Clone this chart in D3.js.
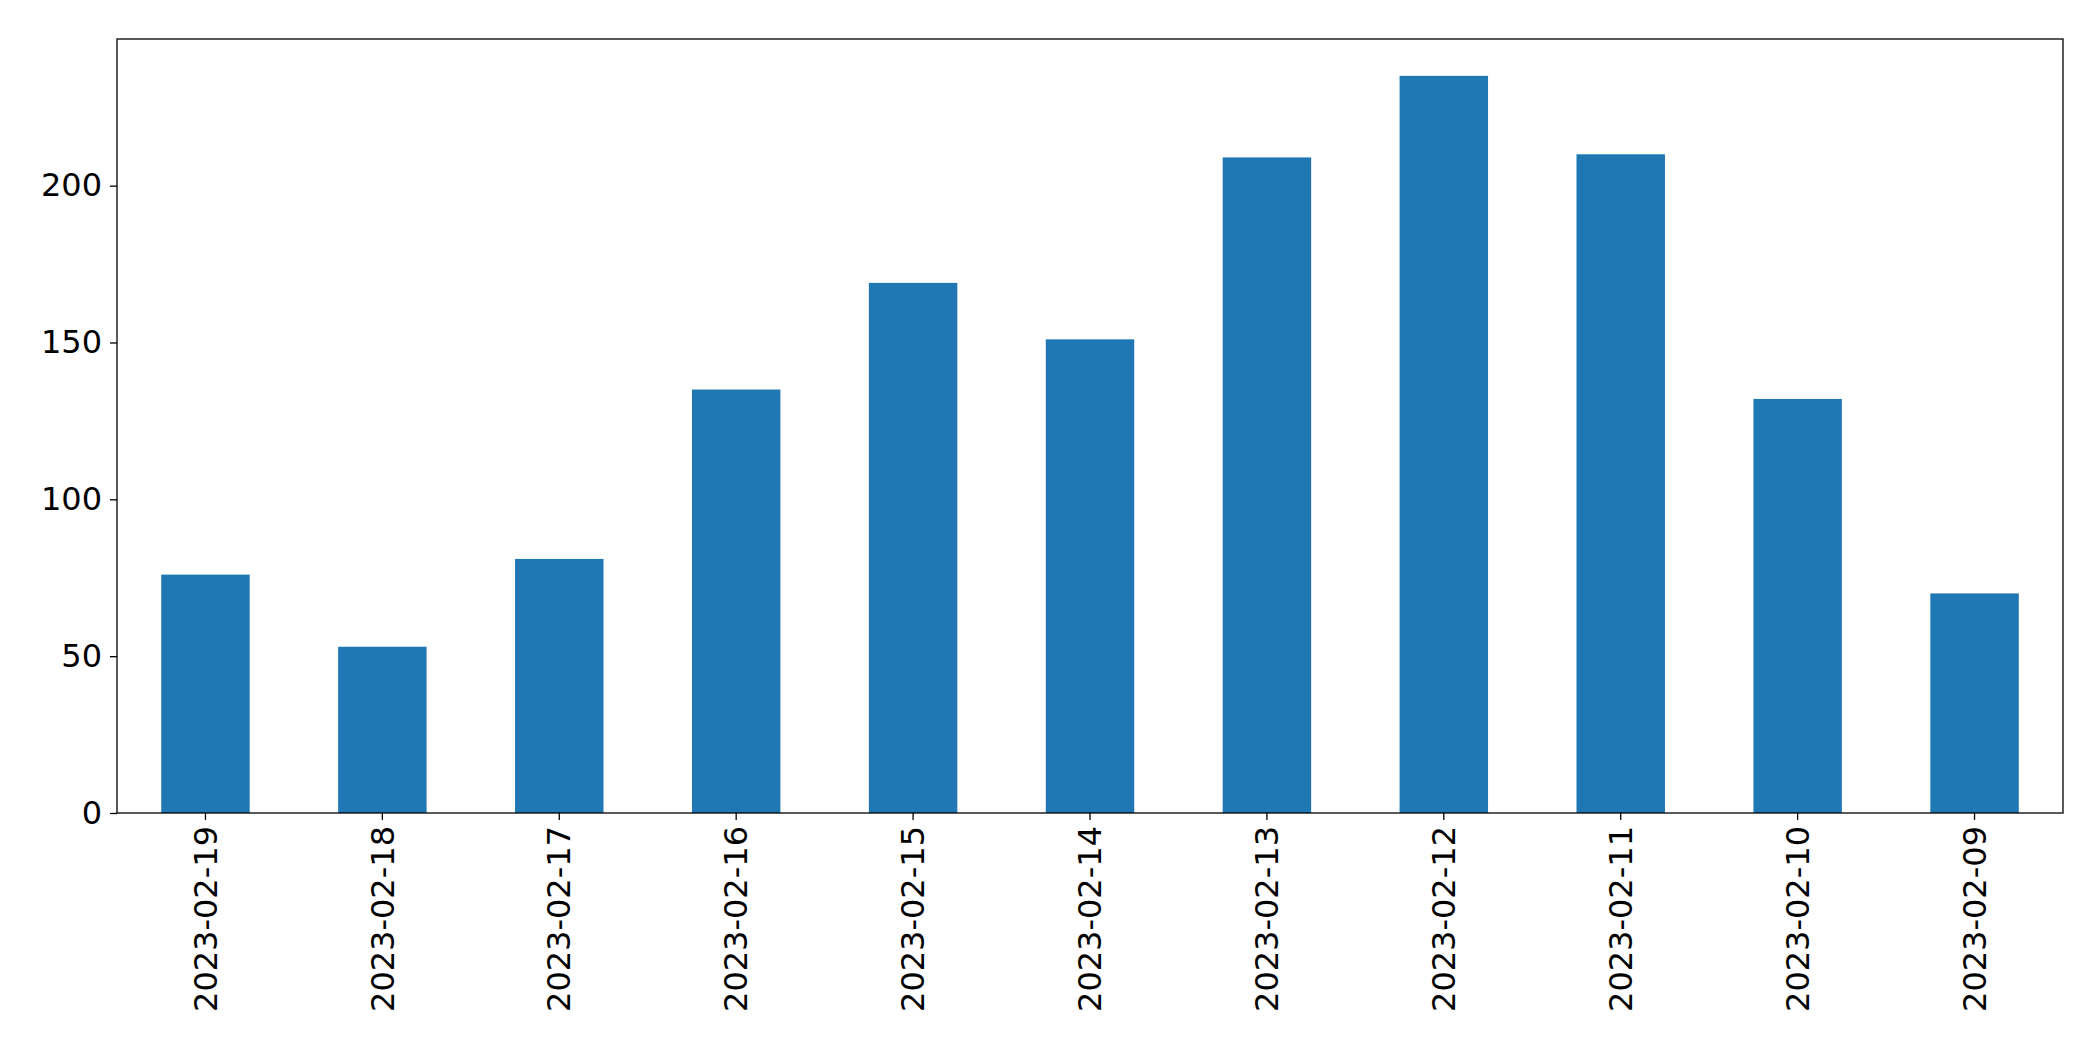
<html>
<head>
<meta charset="utf-8">
<script src="https://cdnjs.cloudflare.com/ajax/libs/d3/7.8.5/d3.min.js"></script>
<style>
  body { margin: 0; background: #fff; }
  .axis text { font-family: "DejaVu Sans", sans-serif; font-size: 32px; fill: #000; }
  .axis line, .axis path { stroke: #000; stroke-width: 1.3; }
</style>
</head>
<body>
<svg id="chart" width="2093" height="1061"></svg>
<script>
var dates = ["2023-02-19","2023-02-18","2023-02-17","2023-02-16","2023-02-15","2023-02-14",
             "2023-02-13","2023-02-12","2023-02-11","2023-02-10","2023-02-09"];
var counts = [76, 53, 81, 135, 169, 151, 209, 235, 210, 132, 70];
var yTicks = [0, 50, 100, 150, 200];

var margin = {top: 39, right: 30, bottom: 248, left: 117};
var svg = d3.select('#chart');
var w = 2093 - margin.left - margin.right;
var h = 1061 - margin.top - margin.bottom;
var g = svg.append('g').attr('transform', 'translate(' + margin.left + ',' + margin.top + ')');

var x = d3.scaleBand().domain(dates).range([0, w]).paddingInner(0.5).paddingOuter(0.25);
var y = d3.scaleLinear().domain([0, d3.max(counts) * 1.05]).range([h, 0]);

g.selectAll('rect').data(dates).enter().append('rect')
  .attr('x', function(d) { return x(d); })
  .attr('width', x.bandwidth())
  .attr('y', function(d, i) { return y(counts[i]); })
  .attr('height', function(d, i) { return h - y(counts[i]); })
  .attr('fill', '#1f77b4');

g.append('g').attr('class', 'axis')
  .call(d3.axisLeft(y).tickValues(yTicks).tickSize(7).tickPadding(8))
  .select('.domain').remove();

g.append('g').attr('class', 'axis')
  .attr('transform', 'translate(0,' + h + ')')
  .call(d3.axisBottom(x).tickSize(7).tickSizeOuter(0).tickPadding(8))
  .call(function(s) { s.select('.domain').remove(); })
  .selectAll('text')
  .attr('transform', 'rotate(-90)')
  .attr('text-anchor', 'end')
  .attr('x', -13).attr('y', 0).attr('dy', '0.35em');

g.append('rect').attr('width', w).attr('height', h)
  .attr('fill', 'none').attr('stroke', '#000').attr('stroke-width', 1.3);
</script>
</body>
</html>
